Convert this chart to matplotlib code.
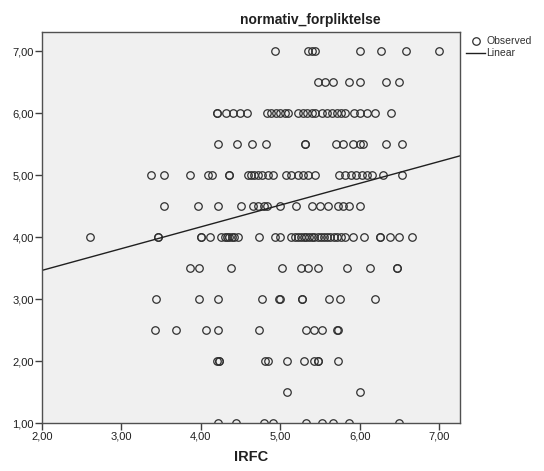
import numpy as np
import matplotlib
matplotlib.use("Agg")
import matplotlib.pyplot as plt
from matplotlib.ticker import FuncFormatter

plt.rcParams['font.family'] = ['Liberation Sans', 'DejaVu Sans']

# IRFC scores, one list per level of normativ_forpliktelse
rows = {
    7.0: [4.93, 5.35, 5.40, 5.44, 6.00, 6.27, 6.59, 7.00],
    6.5: [5.48, 5.56, 5.66, 5.86, 6.00, 6.33, 6.49],
    6.0: [4.20, 4.20, 4.32, 4.40, 4.49, 4.58,
          4.83, 4.89, 4.95, 5.00, 5.06, 5.10,
          5.23, 5.29, 5.34, 5.40, 5.44,
          5.52, 5.59, 5.65, 5.71, 5.77, 5.82,
          5.93, 6.01, 6.09, 6.19, 6.40],
    5.5: [4.22, 4.46, 4.64, 4.82, 5.31, 5.31, 5.70, 5.79, 5.92, 6.00, 6.04, 6.33, 6.53],
    5.0: [3.37, 3.54, 3.87, 4.09, 4.14, 4.35, 4.35,
          4.59, 4.63, 4.67, 4.72, 4.77, 4.84, 4.91,
          5.07, 5.14, 5.22, 5.29, 5.35, 5.44,
          5.74, 5.82, 5.89, 5.96, 6.03, 6.09, 6.15, 6.30, 6.53],
    4.5: [3.54, 3.97, 4.22, 4.51, 4.66, 4.72, 4.79, 4.83, 5.00, 5.20,
          5.40, 5.50, 5.60, 5.73, 5.79, 5.86, 6.00],
    4.0: [2.60, 3.46, 3.46, 4.00, 4.00, 4.11,
          4.26, 4.31, 4.33, 4.36, 4.39, 4.42, 4.47,
          4.73, 4.93, 5.00,
          5.13, 5.18, 5.22, 5.26, 5.30, 5.33, 5.36, 5.40, 5.43, 5.47,
          5.51, 5.55, 5.59, 5.63, 5.68, 5.72, 5.77, 5.82,
          5.92, 6.06, 6.26, 6.26, 6.38, 6.49, 6.66],
    3.5: [3.86, 3.98, 4.38, 5.02, 5.26, 5.35, 5.48, 5.84, 6.13, 6.47, 6.47],
    3.0: [3.44, 3.98, 4.22, 4.77, 4.98, 5.00, 5.28, 5.28, 5.62, 5.75, 6.19],
    2.5: [3.42, 3.69, 4.07, 4.22, 4.73, 5.33, 5.43, 5.53, 5.71, 5.73],
    2.0: [4.21, 4.23, 4.23, 4.81, 4.84, 5.09, 5.30, 5.42, 5.47, 5.47, 5.73],
    1.5: [5.09, 6.00],
    1.0: [4.22, 4.44, 4.80, 4.91, 5.33, 5.53, 5.66, 5.87, 6.49],
}

# fitted linear line
intercept = 2.76
slope = 0.351

x = np.concatenate([v for v in rows.values()])
y = np.concatenate([[k] * len(v) for k, v in rows.items()])

fig = plt.figure(figsize=(5.44, 4.71), dpi=100)
ax = fig.add_axes([0.0772, 0.1019, 0.7684, 0.8301])
ax.set_facecolor('#f0f0f0')

xmin, xmax = 2.0, 7.264
ymin, ymax = 1.0, 7.307

ax.plot(x, y, 'o', markersize=5.4, markerfacecolor='none',
        markeredgecolor='#303030', markeredgewidth=0.9, label='Observed')
xl = np.array([xmin, xmax])
ax.plot(xl, intercept + slope * xl, '-', color='#202020', linewidth=1.0,
        label='Linear')

ax.set_xlim(xmin, xmax)
ax.set_ylim(ymin, ymax)
ax.set_xticks([2, 3, 4, 5, 6, 7])
ax.set_yticks([1, 2, 3, 4, 5, 6, 7])
fmt = FuncFormatter(lambda v, p: f'{v:.2f}'.replace('.', ','))
ax.xaxis.set_major_formatter(fmt)
ax.yaxis.set_major_formatter(fmt)
ax.tick_params(direction='out', length=5, width=1, color='#404040',
               labelsize=8, labelcolor='#202020', pad=1)

for s in ax.spines.values():
    s.set_color('#505050')
    s.set_linewidth(1.0)

ax.set_xlabel('IRFC', fontsize=10.5, fontweight='bold', color='#202020',
              labelpad=6)
fig.text(0.57, 0.958, 'normativ_forpliktelse', fontsize=10, fontweight='bold',
         color='#202020', ha='center', va='center')

ax.legend(loc='upper left', bbox_to_anchor=(1.005, 1.0), frameon=False,
          fontsize=7.5, handlelength=1.8, handletextpad=0.1,
          borderaxespad=0, labelspacing=0.2, labelcolor='#303030')

fig.savefig('out.png', dpi=100)
